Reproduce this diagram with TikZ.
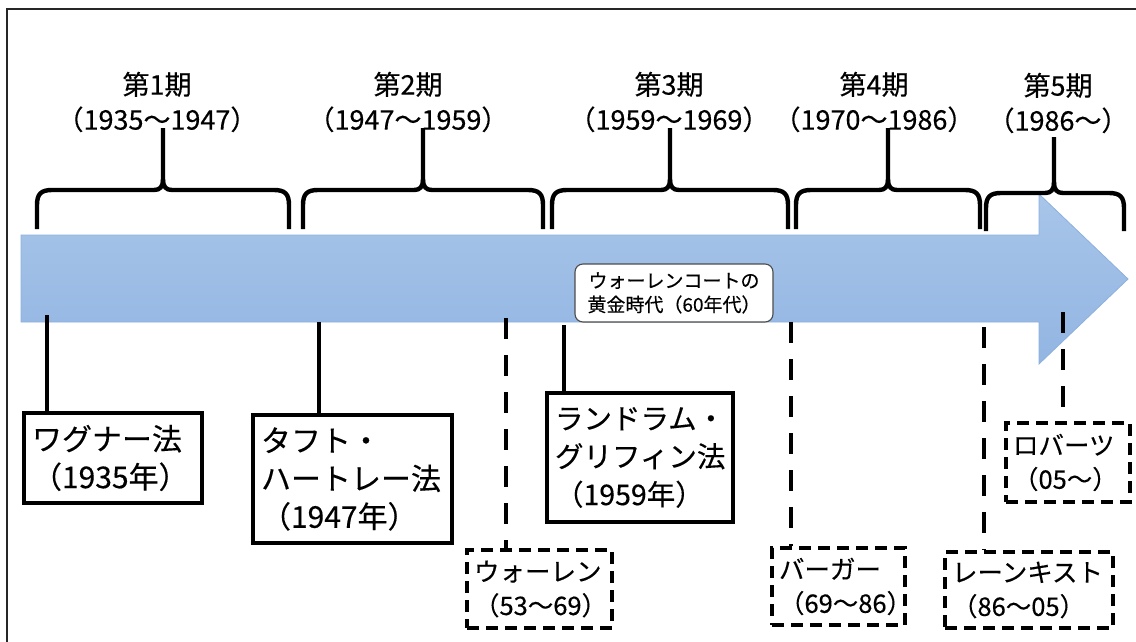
\documentclass[tikz,border=0pt]{standalone}
\usepackage{fontspec}
\setmainfont{Noto Sans CJK JP}[FakeBold=0.3]
\hfuzz=40pt
\definecolor{arrowtop}{RGB}{168,197,233}
\definecolor{arrowbot}{RGB}{146,181,226}
\definecolor{arrowedge}{RGB}{140,176,222}
\newcommand\periodbrace[6]{%
  \draw[brace] (#1,#6) -- (#1,#4+15) .. controls (#1,#4+4) and (#1+4,#4) .. (#1+15,#4)
     -- (#2-9,#4) .. controls (#2-3,#4) and (#2,#4-3) .. (#2,#4-11) -- (#2,#5);
  \draw[brace] (#2,#4-11) .. controls (#2,#4-3) and (#2+3,#4) .. (#2+9,#4)
     -- (#3-15,#4) .. controls (#3-4,#4) and (#3,#4+4) .. (#3,#4+15) -- (#3,#6);}
\begin{document}
\begin{tikzpicture}[x=1pt,y=-1pt,
  brace/.style={line width=4.4pt, line join=round},
  solidbox/.style={draw, line width=3.5pt, align=left, inner xsep=8pt, inner ysep=0pt, fill=white},
  dashbox/.style={draw, line width=3.2pt, dash pattern=on 12pt off 7pt, align=left, inner xsep=7pt, inner ysep=0pt, fill=white},
  conn/.style={line width=4.5pt},
  dconn/.style={line width=4.5pt, dash pattern=on 21pt off 16pt},
  period/.style={align=center, font=\fontsize{27}{35}\selectfont, inner sep=0pt},
  bigtxt/.style={font=\fontsize{30}{38}\selectfont},
  landtxt/.style={font=\fontsize{28.5}{38}\selectfont},
  midtxt/.style={font=\fontsize{25.5}{34}\selectfont},
  callout/.style={draw=black!70, line width=1.1pt, rounded corners=8pt, fill=white, align=center,
     font=\fontsize{19}{24}\selectfont, minimum width=198pt, minimum height=58pt, inner sep=0pt}
]
\useasboundingbox (0,0) rectangle (1136,642);
\clip (0,0) rectangle (1136,642);
% frame
\draw[line width=1.6pt, black!85] (7,9) rectangle (1160,670);

% timeline arrow
\shade[top color=arrowtop, bottom color=arrowbot, draw=arrowedge, line width=0.8pt]
  (21,235) -- (1039,235) -- (1039,194) -- (1128,279) -- (1039,364) -- (1039,322) -- (21,322) -- cycle;

% period braces
\periodbrace{37}{163}{289}{190}{128}{229}
\periodbrace{303}{423}{543}{190}{128}{229}
\periodbrace{552}{670}{788}{190}{128}{229}
\periodbrace{796}{888}{980}{190}{128}{229}
\periodbrace{986}{1054}{1124}{193}{137}{231}

% period labels
\node[period] (p1) at (157,102) {第1期\\（1935〜1947）};
\node[period] (p2) at (408,102) {第2期\\（1947〜1959）};
\node[period] (p3) at (669,102) {第3期\\（1959〜1969）};
\node[period] (p4) at (874,102) {第4期\\（1970〜1986）};
\node[period] (p5) at (1058,103) {第5期\\（1986〜）};

% callout on the arrow
\node[callout] (golden) at (674,293) {ウォーレンコートの\\黄金時代（60年代）};

% event boxes
\node[solidbox, bigtxt, text width=162pt, minimum height=90pt] (wagner) at (113,458) {ワグナー法\\（1935年）};
\node[solidbox, bigtxt, text width=183pt, minimum height=128pt] (taft) at (352.5,479) {タフト・\\ハートレー法\\（1947年）};
\node[solidbox, landtxt, text width=170pt, minimum height=129pt] (landrum) at (640,457.5) {ランドラム・\\グリフィン法\\（1959年）};
\node[dashbox, midtxt, text width=131pt, minimum height=78pt] (warren) at (539.5,589) {ウォーレン\\（53〜69）};
\node[dashbox, midtxt, text width=119pt, minimum height=77pt] (burger) at (838.5,586.5) {バーガー\\（69〜86）};
\node[dashbox, midtxt, text width=154pt, minimum height=76pt] (rehnquist) at (1029,590) {レーンキスト\\（86〜05）};
\node[dashbox, midtxt, text width=110pt, minimum height=79pt] (roberts) at (1068,462.5) {ロバーツ\\（05〜）};

% connectors
\coordinate (wA) at (47,315);
\coordinate (tA) at (319,322);
\coordinate (wrA) at (506,318);
\coordinate (lgA) at (564,325);
\coordinate (bA) at (791,322);
\coordinate (rhA) at (984,327);
\coordinate (roA) at (1063,312);
\draw[conn] (wA) -- (wA |- wagner.north);
\draw[conn] (tA) -- (tA |- taft.north);
\draw[dconn] (wrA) -- (wrA |- warren.north);
\draw[conn] (lgA) -- (lgA |- landrum.north);
\draw[dconn] (bA) -- (bA |- burger.north);
\draw[dconn] (rhA) -- (rhA |- rehnquist.north);
\draw[dconn] (roA) -- (roA |- roberts.north);
\end{tikzpicture}
\end{document}
